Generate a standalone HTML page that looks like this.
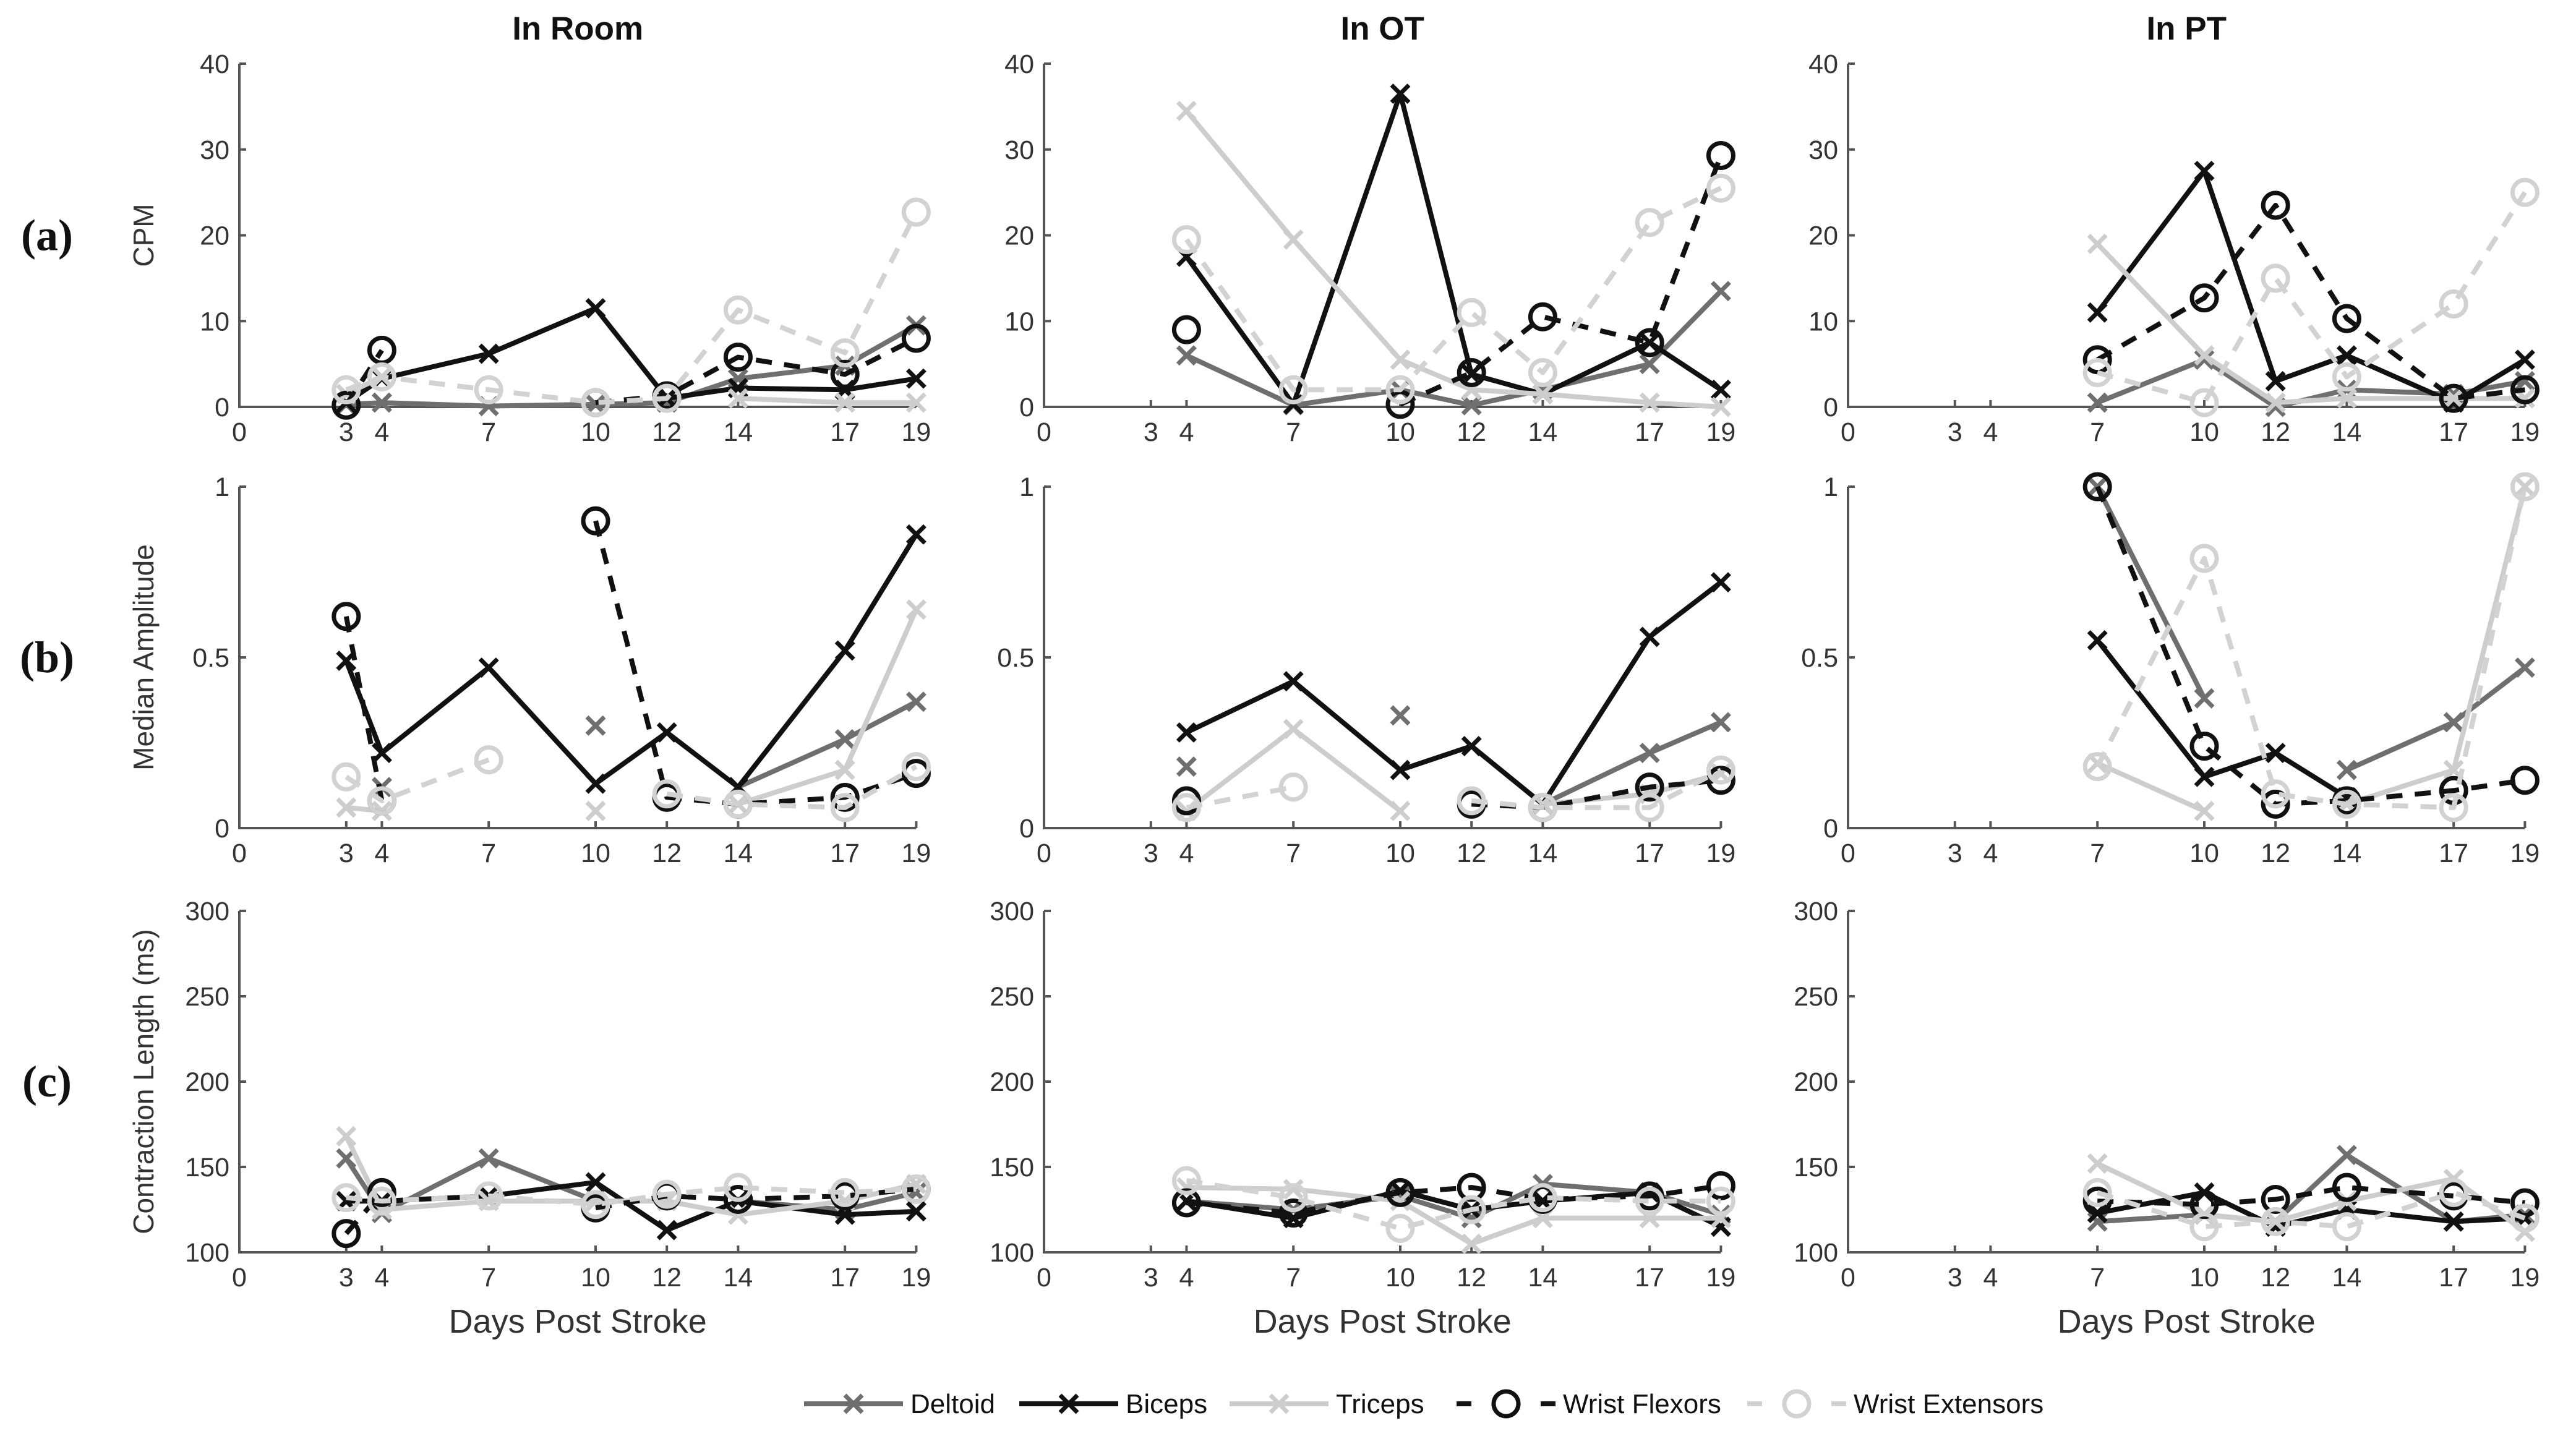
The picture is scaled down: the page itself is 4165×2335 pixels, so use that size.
<!DOCTYPE html>
<html><head><meta charset="utf-8"><style>
html,body{margin:0;padding:0;background:#fff;}
svg{display:block;font-family:"Liberation Sans",sans-serif;}
</style></head><body>
<svg id="chart" width="4165" height="2335" viewBox="0 0 4165 2335" xmlns="http://www.w3.org/2000/svg"></svg>
<script>
// ---- data ----
const xTicks = [0,3,4,7,10,12,14,17,19];
const colTitles = ["In Room","In OT","In PT"];
const rowLetters = ["(a)","(b)","(c)"];
const rowYLabels = ["CPM","Median Amplitude","Contraction Length (ms)"];
const yTicksA = [0,10,20,30,40];
const yTicksB = [0,0.5,1];
const yTicksC = [100,150,200,250,300];
const days = [3,4,7,10,12,14,17,19];
const N = null;
// Row a: CPM
const cpmRoomDeltoid = [0.3,0.5,0.1,0.3,0.5,3.3,4.8,9.5];
const cpmRoomBiceps = [0.5,3.3,6.2,11.5,1,2.2,2,3.3];
const cpmRoomTriceps = [1.5,3.5,N,N,N,1,0.5,0.5];
const cpmRoomFlexors = [0.2,6.6,N,0.5,1.3,5.8,3.8,8];
const cpmRoomExtensors = [2,3.5,2,0.5,1,11.3,6.3,22.7];
const cpmOTDeltoid = [N,6,0.2,2,0.2,2,5,13.5];
const cpmOTBiceps = [N,17.5,0.3,36.5,3.8,1.5,7.5,2];
const cpmOTTriceps = [N,34.5,19.5,5.5,2,1.5,0.5,0];
const cpmOTFlexors = [N,9,N,0.3,4,10.5,7.5,29.3];
const cpmOTExtensors = [N,19.5,2,2,11,4,21.5,25.5];
const cpmPTDeltoid = [N,N,0.5,5.5,0,2,1.5,3];
const cpmPTBiceps = [N,N,11,27.5,3,6,0.5,5.5];
const cpmPTTriceps = [N,N,19,6,0.5,1,1,1];
const cpmPTFlexors = [N,N,5.5,12.7,23.5,10.3,1,2];
const cpmPTExtensors = [N,N,4,0.5,15,3.5,12,25];
// Row b: Median amplitude
const ampRoomDeltoid = [N,0.12,N,0.3,N,0.12,0.26,0.37];
const ampRoomBiceps = [0.49,0.22,0.47,0.13,0.28,0.12,0.52,0.86];
const ampRoomTriceps = [0.06,0.05,N,0.05,N,0.07,0.17,0.64];
const ampRoomFlexors = [0.62,0.08,N,0.9,0.09,0.07,0.09,0.16];
const ampRoomExtensors = [0.15,0.08,0.2,N,0.1,0.07,0.06,0.18];
const ampOTDeltoid = [N,0.18,N,0.33,N,0.07,0.22,0.31];
const ampOTBiceps = [N,0.28,0.43,0.17,0.24,0.07,0.56,0.72];
const ampOTTriceps = [N,0.05,0.29,0.05,N,0.07,0.1,0.16];
const ampOTFlexors = [N,0.08,N,N,0.07,0.06,0.12,0.14];
const ampOTExtensors = [N,0.06,0.12,N,0.08,0.06,0.06,0.17];
const ampPTDeltoid = [N,N,1.0,0.38,N,0.17,0.31,0.47];
const ampPTBiceps = [N,N,0.55,0.15,0.22,0.09,N,N];
const ampPTTriceps = [N,N,0.19,0.05,N,0.07,0.17,1.0];
const ampPTFlexors = [N,N,1.0,0.24,0.07,0.08,0.11,0.14];
const ampPTExtensors = [N,N,0.18,0.79,0.1,0.07,0.06,1.0];
// Row c: Contraction length
const lenRoomDeltoid = [155,123,155,130,N,130,125,135];
const lenRoomBiceps = [130,130,133,141,113,130,122,124];
const lenRoomTriceps = [168,125,130,130,130,122,130,140];
const lenRoomFlexors = [111,135,N,126,133,131,133,137];
const lenRoomExtensors = [132,130,133,128,134,138,135,137];
const lenOTDeltoid = [N,130,125,133,120,140,135,122];
const lenOTBiceps = [N,130,120,136,125,130,135,115];
const lenOTTriceps = [N,138,137,130,105,120,120,120];
const lenOTFlexors = [N,129,123,135,138,131,133,139];
const lenOTExtensors = [N,142,132,114,125,132,130,130];
const lenPTDeltoid = [N,N,118,122,118,157,118,122];
const lenPTBiceps = [N,N,123,135,115,125,118,120];
const lenPTTriceps = [N,N,152,122,118,130,143,112];
const lenPTFlexors = [N,N,130,128,131,138,133,129];
const lenPTExtensors = [N,N,135,115,118,115,135,120];
const seriesNames = ["Deltoid","Biceps","Triceps","Wrist Flexors","Wrist Extensors"];

const data = [
 [[cpmRoomDeltoid,cpmRoomBiceps,cpmRoomTriceps,cpmRoomFlexors,cpmRoomExtensors],
  [cpmOTDeltoid,cpmOTBiceps,cpmOTTriceps,cpmOTFlexors,cpmOTExtensors],
  [cpmPTDeltoid,cpmPTBiceps,cpmPTTriceps,cpmPTFlexors,cpmPTExtensors]],
 [[ampRoomDeltoid,ampRoomBiceps,ampRoomTriceps,ampRoomFlexors,ampRoomExtensors],
  [ampOTDeltoid,ampOTBiceps,ampOTTriceps,ampOTFlexors,ampOTExtensors],
  [ampPTDeltoid,ampPTBiceps,ampPTTriceps,ampPTFlexors,ampPTExtensors]],
 [[lenRoomDeltoid,lenRoomBiceps,lenRoomTriceps,lenRoomFlexors,lenRoomExtensors],
  [lenOTDeltoid,lenOTBiceps,lenOTTriceps,lenOTFlexors,lenOTExtensors],
  [lenPTDeltoid,lenPTBiceps,lenPTTriceps,lenPTFlexors,lenPTExtensors]]
];

// ---- layout ----
const svg = document.getElementById('chart');
const NS = 'http://www.w3.org/2000/svg';
const colX0 = [387,1688,2988];
const unitX = 57.6;
const rows = [
 {top:103,bottom:658,min:0,max:40,ticks:yTicksA},
 {top:787,bottom:1339,min:0,max:1,ticks:yTicksB},
 {top:1473,bottom:2025,min:100,max:300,ticks:yTicksC}
];
const styles = [
 {color:'#6f6f6f',dash:null,marker:'x'},
 {color:'#111111',dash:null,marker:'x'},
 {color:'#cdcdcd',dash:null,marker:'x'},
 {color:'#111111',dash:'26,20',marker:'o'},
 {color:'#d2d2d2',dash:'26,20',marker:'o'}
];
function el(tag,attrs,parent){const e=document.createElementNS(NS,tag);for(const k in attrs)e.setAttribute(k,attrs[k]);(parent||svg).appendChild(e);return e;}
function xScale(c,v){return colX0[c]+v*unitX;}
function yScale(r,v){const R=rows[r];return R.bottom-(v-R.min)/(R.max-R.min)*(R.bottom-R.top);}
function text(str,x,y,attrs,parent){const t=el('text',Object.assign({x:x,y:y},attrs),parent);t.textContent=str;return t;}
function marker(g,type,x,y,color){
  if(type==='x'){
    const s=14;
    return el('path',{d:`M${x-s},${y-s}L${x+s},${y+s}M${x-s},${y+s}L${x+s},${y-s}`,stroke:color,'stroke-width':7,fill:'none'},g);
  } else {
    return el('circle',{cx:x,cy:y,r:20,stroke:color,'stroke-width':7,fill:'none'},g);
  }
}

for(let r=0;r<3;r++){
  for(let c=0;c<3;c++){
    const g=el('g',{});
    
    
    const R=rows[r];
    const x0=xScale(c,0), x19=xScale(c,19);
    const ax=el('path',{d:`M${x0},${R.top}L${x0},${R.bottom}L${x19},${R.bottom}`,stroke:'#555','stroke-width':4,fill:'none'},g);
    
    
    for(const t of R.ticks){
      const y=yScale(r,t);
      el('line',{x1:x0,y1:y,x2:x0+11,y2:y,stroke:'#555','stroke-width':4},g);
      const lbl=text(String(t),x0-16,y+15,{'font-size':43,fill:'#333','text-anchor':'end'},g);
      
      
    }
    for(const t of xTicks){
      const x=xScale(c,t);
      el('line',{x1:x,y1:R.bottom,x2:x,y2:R.bottom-11,stroke:'#555','stroke-width':4},g);
      const lbl=text(String(t),x,R.bottom+55,{'font-size':43,fill:'#333','text-anchor':'middle'},g);
      
      
    }
    for(let s=0;s<5;s++){
      const vals=data[r][c][s], st=styles[s];
      const sg=el('g',{},g);
      
      
      let seg=[];
      const flush=()=>{ if(seg.length>1){ const p=el('polyline',{points:seg.map(p=>p.join(',')).join(' '),stroke:st.color,'stroke-width':8,fill:'none','stroke-linejoin':'round'},sg); if(st.dash)p.setAttribute('stroke-dasharray',st.dash);   } seg=[]; };
      for(let i=0;i<days.length;i++){
        const v=vals[i];
        if(v===null){flush();continue;}
        seg.push([xScale(c,days[i]),yScale(r,v)]);
      }
      flush();
      for(let i=0;i<days.length;i++){
        const v=vals[i]; if(v===null)continue;
        const m=marker(sg,st.marker,xScale(c,days[i]),yScale(r,v),st.color);
        
        
      }
    }
    if(r===2){
      const xl=text('Days Post Stroke',(x0+x19)/2,2155,{'font-size':54,fill:'#333','text-anchor':'middle'},g);
      
      
    }
    if(r===0){
      const tt=text(colTitles[c],(x0+x19)/2,64,{'font-size':53,'font-weight':'bold',fill:'#111','text-anchor':'middle'},g);
      
      
    }
  }
  const R=rows[r];
  const yl=text(rowYLabels[r],0,0,{'font-size':46,fill:'#333','text-anchor':'middle',transform:`translate(248,${(R.top+R.bottom)/2}) rotate(-90)`});
  
  
  const rl=text(rowLetters[r],76,(R.top+R.bottom)/2+24,{'font-size':72,'font-family':'Liberation Serif, serif','font-weight':'bold',fill:'#111','text-anchor':'middle'});
  
  
}

// legend
const legend=el('g',{});


const legX=[1300,1648,1988,2355,2825];
const legY=2270;
for(let s=0;s<5;s++){
  const st=styles[s], lx=legX[s];
  const item=el('g',{},legend);
  
  
  const ln=el('line',{x1:lx,y1:legY,x2:lx+160,y2:legY,stroke:st.color,'stroke-width':8},item);
  if(st.dash){ln.setAttribute('stroke-dasharray','24,112,24');}
  marker(item,st.marker,lx+80,legY,st.color);
  text(seriesNames[s],lx+172,legY+15,{'font-size':44,fill:'#111'},item);
}
</script>
</body></html>
